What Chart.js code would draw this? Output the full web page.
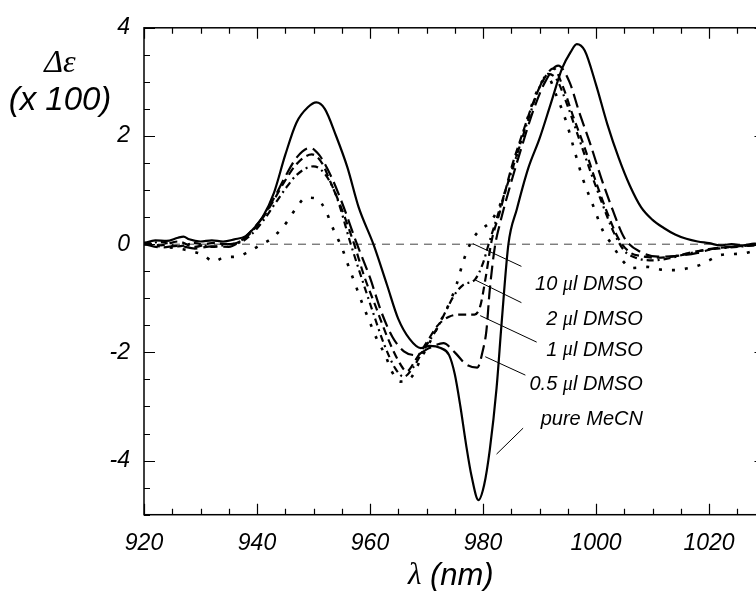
<!DOCTYPE html>
<html>
<head>
<meta charset="utf-8">
<script src="https://cdn.jsdelivr.net/npm/chart.js@4.4.1/dist/chart.umd.min.js"></script>
<style>
  html, body { margin: 0; padding: 0; background: #fff; overflow: hidden; }
  #wrap { width: 780px; height: 591px; }
</style>
</head>
<body>
<div id="wrap"><canvas id="cd" width="780" height="591"></canvas></div>
<script>
// CD spectra, wavelength (nm) vs delta-epsilon (x 100).
const lamMeCN = [920, 922, 924, 926, 927, 928, 930, 932, 934, 936, 938, 939.5, 941, 943, 945, 947, 949, 950.5, 952, 954,
  956, 958, 960.6, 963, 965, 967, 969, 970.6, 972.5, 974, 975, 976, 977, 978, 979.2, 980.2, 981.2, 982.4, 983.3, 984.5,
  986, 988, 990, 992, 994, 995.5, 996.6, 998, 1000, 1002, 1004, 1006, 1008, 1010, 1012, 1014, 1016, 1018, 1020, 1022,
  1024, 1026, 1028, 1030];
const valMeCN = [0.02, 0.07, 0.06, 0.12, 0.14, 0.09, 0.05, 0.07, 0.05, 0.09, 0.15, 0.3, 0.5, 0.95, 1.65, 2.25, 2.53, 2.62, 2.5, 2.0,
  1.42, 0.68, 0.0, -0.75, -1.38, -1.75, -1.92, -1.88, -1.92, -2.05, -2.4, -3.0, -3.7, -4.3, -4.73, -4.45, -3.8, -2.66, -1.45, 0.0,
  0.65, 1.4, 1.95, 2.6, 3.25, 3.55, 3.7, 3.58, 2.95, 2.22, 1.6, 1.08, 0.68, 0.45, 0.3, 0.18, 0.1, 0.05, 0.02, -0.02,
  0.0, -0.02, 0.01, 0.0];

const lam05 = [920, 923, 926, 929, 932, 935, 937, 939, 941, 943, 945, 947, 949.4, 951, 953, 955, 957.7, 960, 962, 964,
  966, 968, 970.5, 973, 975, 977, 979, 980, 980.6, 981.2, 982.1, 983, 985, 987, 989, 991, 993.3, 995.3, 997, 999,
  1001, 1003, 1005, 1008, 1011, 1014, 1018, 1021, 1025, 1030];
const val05 = [0.0, -0.06, -0.03, -0.08, -0.04, -0.05, 0.05, 0.25, 0.5, 0.85, 1.25, 1.6, 1.78, 1.65, 1.28, 0.78, 0.0, -0.62, -1.25, -1.72,
  -1.98, -2.05, -1.92, -1.83, -2.0, -2.22, -2.28, -1.95, -1.6, -0.84, -0.05, 0.38, 1.15, 1.85, 2.5, 3.0, 3.3, 3.0, 2.45, 1.85,
  1.2, 0.62, 0.12, -0.15, -0.23, -0.22, -0.16, -0.08, -0.04, 0.0];

const lam1 = [920, 923, 926, 929, 932, 935, 937, 939, 941, 943, 945, 947, 949.7, 951.5, 953, 955, 957.2, 959, 961, 963,
  965, 966.5, 968, 970, 972, 974, 976, 978.5, 979.5, 980.5, 981.5, 983, 985, 987, 989, 990.5, 992.5, 994, 996, 998,
  1000, 1002, 1004, 1006, 1008, 1011, 1014, 1017, 1020, 1025, 1030];
const val1 = [0.03, -0.02, 0.05, -0.05, 0.02, 0.0, 0.05, 0.22, 0.48, 0.82, 1.18, 1.48, 1.66, 1.5, 1.15, 0.65, 0.0, -0.6, -1.15, -1.7,
  -2.15, -2.35, -2.15, -1.82, -1.5, -1.34, -1.3, -1.3, -1.15, -0.6, 0.05, 0.6, 1.4, 2.05, 2.65, 3.0, 3.25, 2.95, 2.35, 1.78,
  1.15, 0.58, 0.1, -0.15, -0.22, -0.25, -0.22, -0.15, -0.09, -0.04, 0.0];

const lam2 = [920, 923, 926, 929, 932, 935, 937, 939, 941, 943, 945, 947, 950, 952, 954, 956.6, 958.5, 960.5, 962.5, 964.5,
  966, 967.5, 969.5, 971.8, 973.6, 974.8, 976.5, 978.6, 980, 981, 982.5, 984, 986, 988, 990, 991.5, 993, 995, 997, 999,
  1001, 1003, 1005, 1007, 1010, 1013, 1016, 1020, 1025, 1030];
const val2 = [0.0, 0.04, -0.04, 0.02, -0.05, 0.0, 0.03, 0.18, 0.42, 0.72, 1.02, 1.28, 1.44, 1.3, 0.9, 0.0, -0.62, -1.25, -1.85, -2.3,
  -2.45, -2.3, -1.95, -1.57, -1.2, -0.96, -0.75, -0.65, -0.35, 0.0, 0.5, 1.0, 1.65, 2.3, 2.9, 3.15, 3.05, 2.55, 1.95, 1.35,
  0.78, 0.25, -0.12, -0.25, -0.3, -0.26, -0.18, -0.1, -0.05, 0.0];

const lam10 = [920, 923, 926, 928, 930.5, 932.3, 934.3, 936.4, 938.5, 940.5, 942.5, 944.1, 945.5, 947, 948.7, 950.6, 952.3, 953.2, 954.4, 955.3,
  956.1, 957.1, 958.8, 960, 961.2, 962.7, 963.9, 965.3, 967.4, 969, 970.9, 972.5, 974, 975.3, 976.5, 977.7, 978.9, 980, 981, 982.4,
  983.5, 985.4, 987.1, 988.9, 990.4, 991.5, 993.1, 994.8, 996.3, 997.7, 999.5, 1001.3, 1002.8, 1004.6, 1006.3, 1009, 1011.5, 1014, 1016, 1018,
  1020, 1022, 1026, 1030];
const val10 = [0.0, -0.04, -0.08, -0.12, -0.2, -0.32, -0.24, -0.23, -0.14, -0.02, 0.1, 0.26, 0.44, 0.68, 0.86, 0.84, 0.59, 0.35, 0.08, -0.14,
  -0.38, -0.66, -1.14, -1.45, -1.75, -2.05, -2.36, -2.54, -2.45, -2.12, -1.75, -1.42, -1.1, -0.75, -0.32, 0.0, 0.2, 0.3, 0.38, 0.59,
  0.85, 1.45, 2.05, 2.65, 3.0, 3.07, 2.72, 2.24, 1.69, 1.2, 0.71, 0.23, 0.0, -0.29, -0.44, -0.42, -0.47, -0.48, -0.45, -0.4,
  -0.3, -0.2, -0.17, -0.05];

const lamZero = [920, 1030];
const valZero = [0, 0];

const xTicks = [920, 940, 960, 980, 1000, 1020];
const yTicks = [-4, -2, 0, 2, 4];

const SANS = '"Liberation Sans", Arial, sans-serif';
const SERIF = '"Liberation Serif", "Times New Roman", serif';

function points(lam, val) {
    return lam.map((x, i) => ({ x, y: val[i] }));
}

function curve(label, lam, val, dash, width) {
    return {
        label,
        data: points(lam, val),
        borderColor: '#000',
        borderWidth: width || 2,
        borderDash: dash,
        pointRadius: 0,
        fill: false,
        cubicInterpolationMode: 'monotone',
    };
}

/** Draw text where Greek letters use the serif face (like the Symbol font in the original). */
function drawMixed(ctx, text, x, y, size, align) {
    const parts = text.split(/([μλΔε]+)/).filter(Boolean).map((t) => ({
        t,
        font: 'italic ' + size + 'px ' + (/[μλΔε]/.test(t) ? SERIF : SANS),
    }));
    let total = 0;
    parts.forEach((p) => { ctx.font = p.font; p.w = ctx.measureText(p.t).width; total += p.w; });
    let cx = align === 'right' ? x - total : align === 'center' ? x - total / 2 : x;
    ctx.textBaseline = 'middle';
    ctx.textAlign = 'left';
    parts.forEach((p) => { ctx.font = p.font; ctx.fillText(p.t, cx, y); cx += p.w; });
}

// Frame with inward ticks, the curve labels with leader lines, and axis titles.
const decorPlugin = {
    id: 'decor',
    afterDraw(chart) {
        const { ctx, chartArea: a, scales: { x, y } } = chart;
        ctx.save();
        ctx.strokeStyle = '#000';
        ctx.fillStyle = '#000';
        ctx.lineWidth = 1.5;
        ctx.strokeRect(a.left, a.top, a.right - a.left, a.bottom - a.top);

        ctx.lineWidth = 1.2;
        ctx.beginPath();
        for (let v = 920; v <= 1030; v += 5) {
            const px = Math.round(x.getPixelForValue(v)) + 0.5;
            const len = xTicks.includes(v) ? 11 : 6;
            ctx.moveTo(px, a.bottom); ctx.lineTo(px, a.bottom - len);
            ctx.moveTo(px, a.top); ctx.lineTo(px, a.top + len);
        }
        for (let v = -5; v <= 4; v += 0.5) {
            const py = Math.round(y.getPixelForValue(v)) + 0.5;
            const len = yTicks.includes(v) ? 11 : 6;
            ctx.moveTo(a.left, py); ctx.lineTo(a.left + len, py);
            ctx.moveTo(a.right, py); ctx.lineTo(a.right - len, py);
        }
        ctx.stroke();

        const notes = [
            { text: '10 μl DMSO', at: [1008.3, -0.75], from: [978.2, 0.01], to: [986.8, -0.41] },
            { text: '2 μl DMSO', at: [1008.3, -1.39], from: [978.6, -0.66], to: [986.8, -1.08] },
            { text: '1 μl DMSO', at: [1008.3, -1.96], from: [979.5, -1.32], to: [989.5, -1.81] },
            { text: '0.5 μl DMSO', at: [1008.3, -2.6], from: [980.4, -2.08], to: [987.5, -2.42] },
            { text: 'pure MeCN', at: [1008.3, -3.24], from: [982.4, -3.88], to: [987.1, -3.4] },
        ];
        ctx.lineWidth = 1;
        notes.forEach((n) => {
            ctx.beginPath();
            ctx.moveTo(x.getPixelForValue(n.from[0]), y.getPixelForValue(n.from[1]));
            ctx.lineTo(x.getPixelForValue(n.to[0]), y.getPixelForValue(n.to[1]));
            ctx.stroke();
            drawMixed(ctx, n.text, x.getPixelForValue(n.at[0]), y.getPixelForValue(n.at[1]), 20, 'right');
        });

        drawMixed(ctx, 'Δε', 60, 64, 32, 'center');
        drawMixed(ctx, '(x 100)', 60, 101, 33, 'center');
        drawMixed(ctx, 'λ (nm)', (a.left + a.right) / 2 - 4, 576, 31, 'center');
        ctx.restore();
    },
};

const tickFont = { family: SANS, size: 23, style: 'italic' };

new Chart(document.getElementById('cd'), {
    type: 'line',
    data: {
        datasets: [
            curve('pure MeCN', lamMeCN, valMeCN, [], 2.2),
            curve('0.5 μl DMSO', lam05, val05, [14, 6], 2.2),
            curve('1 μl DMSO', lam1, val1, [8, 5], 2.2),
            curve('2 μl DMSO', lam2, val2, [7, 4, 2, 4], 2.2),
            curve('10 μl DMSO', lam10, val10, [3, 10], 2.6),
            { label: 'zero', data: points(lamZero, valZero), borderColor: '#444', borderWidth: 1,
              borderDash: [8, 6], pointRadius: 0, fill: false },
        ],
    },
    options: {
        responsive: false,
        animation: false,
        devicePixelRatio: 1,
        layout: { padding: { top: 21.7, right: 14.5, left: 0, bottom: 0 } },
        plugins: { legend: { display: false }, tooltip: { enabled: false } },
        scales: {
            x: {
                type: 'linear', min: 920, max: 1030,
                grid: { display: false, drawTicks: false },
                border: { display: false },
                afterBuildTicks: (s) => { s.ticks = xTicks.map((value) => ({ value })); },
                afterFit: (s) => { s.height = 76.3; },
                ticks: { padding: 15, color: '#000', font: tickFont, maxRotation: 0, autoSkip: false,
                         callback: (v) => String(v) },
            },
            y: {
                type: 'linear', min: -5, max: 4,
                grid: { display: false, drawTicks: false },
                border: { display: false },
                afterBuildTicks: (s) => { s.ticks = yTicks.map((value) => ({ value })); },
                afterFit: (s) => { s.width = 144; },
                ticks: { padding: 14, color: '#000', font: tickFont, autoSkip: false,
                         callback: (v) => String(v) },
            },
        },
    },
    plugins: [decorPlugin],
});
</script>
</body>
</html>
